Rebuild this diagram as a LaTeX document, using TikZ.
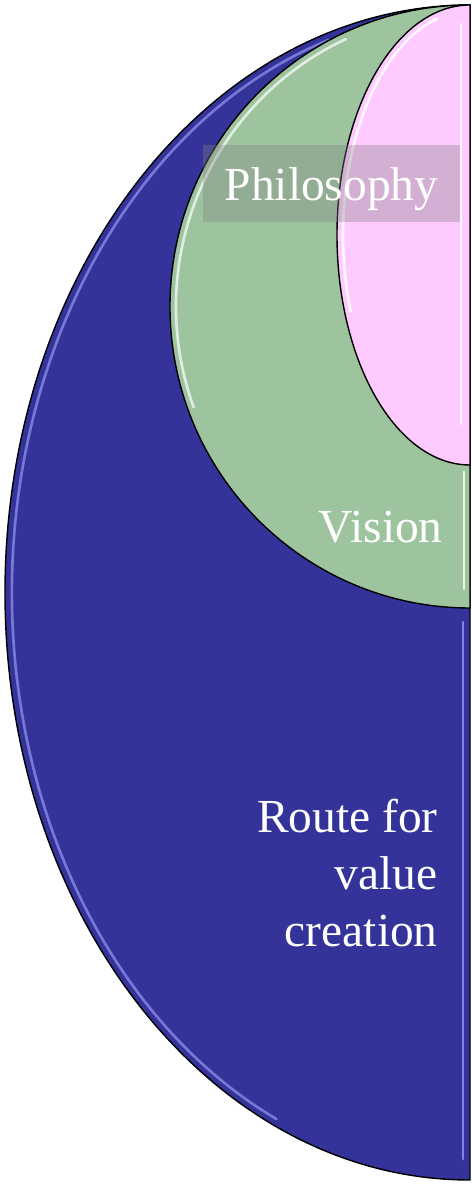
\documentclass[tikz,border=0pt]{standalone}
\usepackage{fontspec}
\setmainfont{Liberation Serif}
\usetikzlibrary{positioning}
\definecolor{routeblue}{RGB}{51,51,153}
\definecolor{visgreen}{RGB}{157,196,158}
\definecolor{philpink}{RGB}{255,202,255}
\tikzset{
  half/.style={draw=black, line width=0.8pt},
  rim/.style={line width=1.5pt, line cap=round},
  lbl/.style={text=white, inner sep=0pt, font=\fontsize{27}{32.3}\selectfont},
  band/.style={fill=black!49, fill opacity=0.35, text opacity=1, inner xsep=0pt, inner ysep=0pt},
}
\begin{document}
\begin{tikzpicture}[x=0.02cm,y=0.02cm]
  \useasboundingbox (0,0) rectangle (471,1184);
  % route for value creation
  \fill[half,fill=routeblue] (470,1179) arc[start angle=90, end angle=270, x radius=465, y radius=587.5] -- cycle;
  \draw[rim,draw=blue!35!white,opacity=0.6,shift={(470,591.5)}] (108:458 and 581) arc[start angle=108, end angle=245, x radius=458, y radius=581];
  \draw[rim,draw=blue!35!white,opacity=0.7] (463,562) -- (463,25);
  % vision
  \fill[half,fill=visgreen] (470,1179) arc[start angle=90, end angle=270, x radius=300, y radius=301.5] -- cycle;
  \draw[rim,draw=white,opacity=0.7,shift={(470,877.5)}] (115:294 and 295) arc[start angle=115, end angle=200, x radius=294, y radius=295];
  \draw[rim,draw=white,opacity=0.8] (464,712) -- (464,595);
  % philosophy
  \fill[half,fill=philpink] (470,1179) arc[start angle=90, end angle=270, x radius=133, y radius=230] -- cycle;
  \draw[rim,draw=white,opacity=0.85,shift={(470,949)}] (105:127 and 224) arc[start angle=105, end angle=200, x radius=127, y radius=224];
  \draw[rim,draw=white,opacity=0.85] (461,1160) -- (461,760);

  \node[lbl,band,anchor=base,text height=31.8pt,text depth=11.9pt,minimum width=145.9pt] (philosophy) at (331.5,983) {Philosophy};
  \node[lbl,anchor=base east] (vision) at (443,641) {Vision};
  \node[lbl,align=right,anchor=east] (route) at (438,311) {Route for\\value\\creation};
\end{tikzpicture}
\end{document}
